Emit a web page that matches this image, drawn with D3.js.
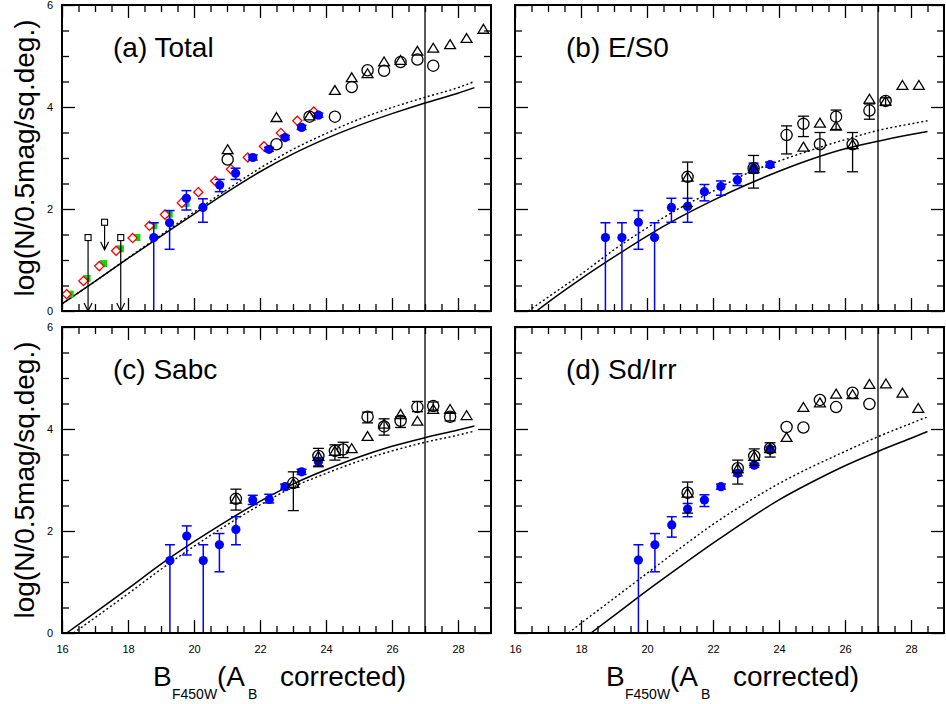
<!DOCTYPE html>
<html><head><meta charset="utf-8">
<script src="https://cdn.jsdelivr.net/npm/d3@7"></script>
<style>body{margin:0;background:#fff}</style>
</head><body>
<svg id="c" width="946" height="704"></svg>
<script>
// ---------- data ----------
const panelTitles = ["(a) Total", "(b) E/S0", "(c) Sabc", "(d) Sd/Irr"];
const xTicksMajor = [16, 18, 20, 22, 24, 26, 28];
const yTicksMajor = [0, 2, 4, 6];
const limitMag = 27;

// model curves [mag, log N]
const totalSolid  = [[16,0.14],[17,0.58],[18,1.03],[19,1.47],[20,1.90],[21,2.33],[22,2.73],[23,3.08],[24,3.38],[25,3.64],[26,3.87],[27,4.08],[28,4.27],[28.5,4.38]];
const totalDotted = [[16,0.14],[17,0.58],[18,1.04],[19,1.49],[20,1.94],[21,2.38],[22,2.80],[23,3.17],[24,3.48],[25,3.76],[26,3.99],[27,4.19],[28,4.38],[28.5,4.50]];
const es0Solid    = [[16.65,0],[17,0.17],[18,0.63],[19,1.06],[20,1.47],[21,1.84],[22,2.17],[23,2.47],[24,2.74],[25,2.98],[26,3.18],[27,3.33],[28,3.46],[28.5,3.52]];
const es0Dotted   = [[16.4,0],[17,0.27],[18,0.72],[19,1.20],[20,1.63],[21,2.02],[22,2.35],[23,2.69],[24,2.94],[25,3.16],[26,3.36],[27,3.54],[28,3.67],[28.5,3.73]];
const sabcSolid   = [[16.14,0],[17,0.40],[18,0.87],[19,1.35],[20,1.79],[21,2.20],[22,2.58],[23,2.92],[24,3.20],[25,3.45],[26,3.66],[27,3.83],[28,3.98],[28.5,4.06]];
const sabcDotted  = [[16.35,0],[17,0.30],[18,0.77],[19,1.25],[20,1.70],[21,2.12],[22,2.51],[23,2.86],[24,3.13],[25,3.37],[26,3.57],[27,3.74],[28,3.88],[28.5,3.96]];
const sdSolid     = [[18.3,0],[19,0.34],[20,0.83],[21,1.30],[22,1.76],[23,2.20],[24,2.61],[25,2.96],[26,3.28],[27,3.56],[28,3.82],[28.5,3.95]];
const sdDotted    = [[17.62,0],[18,0.19],[19,0.68],[20,1.17],[21,1.66],[22,2.13],[23,2.55],[24,2.93],[25,3.26],[26,3.56],[27,3.85],[28,4.11],[28.5,4.24]];

// (a) Total extra samples
const totalDiamond = [[16.14,0.33],[16.65,0.59],[17.13,0.88],[17.64,1.18],[18.14,1.43],[18.65,1.67],[19.12,1.89],[19.63,2.12],[20.13,2.33],[20.64,2.55],[21.12,2.78],[21.63,3.01],[22.12,3.23],[22.63,3.49],[23.13,3.73],[23.63,3.91]];
const totalGreen   = [[16.25,0.33],[16.76,0.64],[17.26,0.93],[17.77,1.22],[18.27,1.44],[18.78,1.67],[19.25,1.90],[19.76,2.11]];
const totalLimits  = [[16.79,1.44,0],[17.29,1.74,1.2],[17.78,1.44,0]]; // [mag, value, arrow end]

// blue points [mag, value, low, high]
const totalBlue = [[18.78,1.44,-1,1.73],[19.26,1.73,1.21,1.97],[19.77,2.21,1.98,2.36],[20.27,2.03,1.74,2.20],[20.78,2.47,2.34,2.58],[21.26,2.70,2.58,2.80],[21.78,3.01,2.96,3.06],[22.27,3.17,3.13,3.21],[22.76,3.40,3.36,3.44],[23.26,3.60,3.56,3.64],[23.77,3.84,3.80,3.88]];
const es0Blue   = [[18.74,1.44,-1,1.73],[19.24,1.44,-1,1.73],[19.74,1.74,1.21,1.97],[20.23,1.44,-1,1.73],[20.74,2.03,1.74,2.21],[21.23,2.05,1.74,2.21],[21.74,2.34,2.16,2.48],[22.24,2.44,2.27,2.55],[22.74,2.57,2.46,2.69],[23.23,2.80,2.70,2.90],[23.73,2.87,2.82,2.92]];
const sabcBlue  = [[19.27,1.42,-1,1.73],[19.78,1.90,1.53,2.10],[20.28,1.42,-1,1.73],[20.77,1.73,1.20,1.95],[21.27,2.03,1.73,2.28],[21.78,2.61,2.52,2.70],[22.28,2.62,2.55,2.72],[22.76,2.87,2.82,2.92],[23.26,3.16,3.11,3.21],[23.77,3.36,3.28,3.44]];
const sdBlue    = [[19.74,1.43,-1,1.73],[20.24,1.73,1.20,1.95],[20.75,2.12,1.88,2.28],[21.23,2.43,2.28,2.54],[21.74,2.61,2.48,2.71],[22.24,2.87,2.82,2.92],[22.75,3.13,3.08,3.18],[23.25,3.29,3.25,3.33],[23.73,3.61,3.57,3.65]];

// open circles [mag, value, low, high] (null = no error bar)
const totalCircle = [[21.02,2.97,null,null],[22.5,3.27,null,null],[23.5,3.81,null,null],[24.27,3.81,null,null],[24.78,4.39,null,null],[25.26,4.72,null,null],[25.76,4.71,null,null],[26.26,4.88,null,null],[26.77,4.93,null,null],[27.25,4.81,null,null]];
const es0Circle   = [[21.23,2.63,2.05,2.92],[23.23,2.80,2.41,3.05],[24.23,3.45,3.08,3.63],[24.74,3.67,3.42,3.82],[25.24,3.27,2.73,3.50],[25.73,3.81,3.56,3.94],[26.23,3.27,2.73,3.50],[26.74,3.93,3.76,4.06],[27.23,4.12,4.03,4.18]];
const sabcCircle  = [[21.27,2.63,2.41,2.82],[23.01,2.94,2.40,3.16],[23.77,3.47,3.26,3.62],[24.27,3.57,3.39,3.69],[24.52,3.60,3.44,3.74],[25.26,4.24,4.12,4.33],[25.76,4.05,3.88,4.20],[26.26,4.16,4.03,4.24],[26.77,4.43,4.34,4.54],[27.25,4.45,4.37,4.53],[27.76,4.24,4.16,4.32]];
const sdCircle    = [[21.23,2.75,2.35,2.96],[22.75,3.23,2.92,3.39],[23.25,3.47,3.29,3.61],[23.73,3.62,3.45,3.73],[24.23,4.04,null,null],[24.74,4.03,null,null],[25.24,4.57,null,null],[25.73,4.43,null,null],[26.23,4.71,null,null],[26.74,4.49,null,null]];

// open triangles [mag, value]
const totalTriangle = [[21.02,3.17],[22.5,3.80],[23.5,3.83],[24.27,4.33],[24.78,4.58],[25.26,4.66],[25.76,4.89],[26.26,4.92],[26.77,5.10],[27.25,5.16],[27.76,5.23],[28.26,5.35],[28.77,5.53]];
const es0Triangle   = [[21.23,2.63],[23.23,2.80],[24.74,3.22],[25.24,3.69],[25.73,3.63],[26.23,3.27],[26.74,4.16],[27.23,4.12],[27.74,4.43],[28.24,4.43]];
const sabcTriangle  = [[21.27,2.63],[23.01,2.94],[23.77,3.47],[24.27,3.57],[24.78,3.62],[25.26,3.86],[25.76,4.10],[26.26,4.29],[26.77,4.16],[27.25,4.39],[27.76,4.39],[28.26,4.27]];
const sdTriangle    = [[21.23,2.75],[22.75,3.23],[23.25,3.47],[23.73,3.62],[24.23,3.84],[24.74,4.43],[25.24,4.52],[25.73,4.69],[26.23,4.68],[26.74,4.88],[27.24,4.89],[27.74,4.71],[28.22,4.41]];

// ---------- drawing ----------
const svg = d3.select("#c");
const W = 429, H = 306;
const origins = [[62,5],[515,5],[62,327],[515,327]];
const FONT = "'Liberation Sans', Arial, Helvetica, sans-serif";
const x = d3.scaleLinear().domain([16,29]).range([0,W]);
const y = d3.scaleLinear().domain([0,6]).range([H,0]);

const panels = [
  {solid: totalSolid, dotted: totalDotted, blue: totalBlue, circles: totalCircle, triangles: totalTriangle, diamonds: totalDiamond, green: totalGreen, limits: totalLimits},
  {solid: es0Solid, dotted: es0Dotted, blue: es0Blue, circles: es0Circle, triangles: es0Triangle},
  {solid: sabcSolid, dotted: sabcDotted, blue: sabcBlue, circles: sabcCircle, triangles: sabcTriangle},
  {solid: sdSolid, dotted: sdDotted, blue: sdBlue, circles: sdCircle, triangles: sdTriangle}
];

const minorX = d3.range(16.5, 29, 0.5).filter(v => v % 2 !== 0);
const minorY = d3.range(0.5, 6, 0.5).filter(v => v % 2 !== 0);
const line = d3.line().x(d => x(d[0])).y(d => y(d[1])).curve(d3.curveMonotoneX);

function styleAxis(sel){
  sel.select(".domain").remove();
  sel.selectAll(".tick line").attr("stroke","#000").attr("stroke-width",1.3);
  sel.selectAll(".tick text").attr("font-family",FONT).attr("font-size",11).attr("fill","#000");
}

panels.forEach((p, i) => {
  const [ox, oy] = origins[i];
  const left = (i % 2 === 0), bottom = (i >= 2);
  const g = svg.append("g").attr("transform", `translate(${ox},${oy})`);
  g.append("clipPath").attr("id","clip"+i).append("rect").attr("width",W).attr("height",H);

  // ticks
  g.append("g").attr("transform",`translate(0,${H})`).call(d3.axisBottom(x).tickValues(xTicksMajor).tickSize(-13).tickPadding(12).tickFormat(bottom ? d3.format("d") : "")).call(styleAxis);
  g.append("g").attr("transform",`translate(0,${H})`).call(d3.axisBottom(x).tickValues(minorX).tickSize(-7).tickFormat("")).call(styleAxis);
  g.append("g").call(d3.axisTop(x).tickValues(xTicksMajor).tickSize(-13).tickFormat("")).call(styleAxis);
  g.append("g").call(d3.axisTop(x).tickValues(minorX).tickSize(-7).tickFormat("")).call(styleAxis);
  g.append("g").call(d3.axisLeft(y).tickValues(yTicksMajor).tickSize(-13).tickPadding(9).tickFormat(left ? d3.format("d") : "")).call(styleAxis);
  g.append("g").call(d3.axisLeft(y).tickValues(minorY).tickSize(-7).tickFormat("")).call(styleAxis);
  g.append("g").attr("transform",`translate(${W},0)`).call(d3.axisRight(y).tickValues(yTicksMajor).tickSize(-13).tickFormat("")).call(styleAxis);
  g.append("g").attr("transform",`translate(${W},0)`).call(d3.axisRight(y).tickValues(minorY).tickSize(-7).tickFormat("")).call(styleAxis);

  const c = g.append("g").attr("clip-path",`url(#clip${i})`);

  // completeness limit
  c.append("line").attr("x1",x(limitMag)).attr("x2",x(limitMag)).attr("y1",0).attr("y2",H)
    .attr("stroke","#000").attr("stroke-width",1.3);

  // model curves
  c.append("path").datum(p.dotted).attr("d",line).attr("fill","none").attr("stroke","#000")
    .attr("stroke-width",1.4).attr("stroke-dasharray","2,2.5");
  c.append("path").datum(p.solid).attr("d",line).attr("fill","none").attr("stroke","#000").attr("stroke-width",1.5);

  // green squares
  if (p.green) {
    c.selectAll(".gr").data(p.green).enter().append("rect")
      .attr("x",d=>x(d[0])-3.5).attr("y",d=>y(d[1])-3.5).attr("width",7).attr("height",7).attr("fill","#00dd00");
  }
  // red diamonds
  if (p.diamonds) {
    c.selectAll(".dm").data(p.diamonds).enter().append("path")
      .attr("transform",d=>`translate(${x(d[0])},${y(d[1])})`)
      .attr("d","M0,-4.6L4.6,0L0,4.6L-4.6,0Z").attr("fill","#fff").attr("stroke","#ff0000").attr("stroke-width",1.3);
  }
  // upper limits
  if (p.limits) {
    const lg = c.selectAll(".lm").data(p.limits).enter().append("g");
    lg.append("line").attr("x1",d=>x(d[0])).attr("x2",d=>x(d[0])).attr("y1",d=>y(d[1])+3).attr("y2",d=>y(d[2]))
      .attr("stroke","#000").attr("stroke-width",1.2);
    lg.append("path").attr("d",d=>`M${x(d[0])-4},${y(d[2])-8}L${x(d[0])},${y(d[2])}L${x(d[0])+4},${y(d[2])-8}`)
      .attr("fill","none").attr("stroke","#000").attr("stroke-width",1.2);
    lg.append("rect").attr("x",d=>x(d[0])-3).attr("y",d=>y(d[1])-3).attr("width",6).attr("height",6)
      .attr("fill","#fff").attr("stroke","#000").attr("stroke-width",1.1);
  }
  // blue points with error bars
  const bg = c.selectAll(".bl").data(p.blue).enter().append("g");
  bg.append("line").attr("x1",d=>x(d[0])).attr("x2",d=>x(d[0])).attr("y1",d=>y(d[2])).attr("y2",d=>y(d[3]))
    .attr("stroke","#0000ff").attr("stroke-width",1.5);
  bg.append("line").attr("x1",d=>x(d[0])-5).attr("x2",d=>x(d[0])+5).attr("y1",d=>y(d[3])).attr("y2",d=>y(d[3]))
    .attr("stroke","#0000ff").attr("stroke-width",1.5);
  bg.append("line").attr("x1",d=>x(d[0])-5).attr("x2",d=>x(d[0])+5).attr("y1",d=>y(d[2])).attr("y2",d=>y(d[2]))
    .attr("stroke","#0000ff").attr("stroke-width",1.5);
  bg.append("circle").attr("cx",d=>x(d[0])).attr("cy",d=>y(d[1])).attr("r",4.6).attr("fill","#0000ff");

  // open circles with black error bars
  const cg = c.selectAll(".ci").data(p.circles).enter().append("g");
  const withErr = cg.filter(d => d[2] !== null);
  withErr.append("line").attr("x1",d=>x(d[0])).attr("x2",d=>x(d[0])).attr("y1",d=>y(d[2])).attr("y2",d=>y(d[3]))
    .attr("stroke","#000").attr("stroke-width",1.3);
  withErr.append("line").attr("x1",d=>x(d[0])-5.5).attr("x2",d=>x(d[0])+5.5).attr("y1",d=>y(d[3])).attr("y2",d=>y(d[3]))
    .attr("stroke","#000").attr("stroke-width",1.3);
  withErr.append("line").attr("x1",d=>x(d[0])-5.5).attr("x2",d=>x(d[0])+5.5).attr("y1",d=>y(d[2])).attr("y2",d=>y(d[2]))
    .attr("stroke","#000").attr("stroke-width",1.3);
  cg.append("circle").attr("cx",d=>x(d[0])).attr("cy",d=>y(d[1])).attr("r",5.6)
    .attr("fill","none").attr("stroke","#000").attr("stroke-width",1.3);

  // open triangles
  c.selectAll(".tr").data(p.triangles).enter().append("path")
    .attr("transform",d=>`translate(${x(d[0])},${y(d[1])})`)
    .attr("d","M0,-4.6L5.4,4.3L-5.4,4.3Z").attr("fill","none").attr("stroke","#000").attr("stroke-width",1.3);

  // frame
  g.append("rect").attr("width",W).attr("height",H).attr("fill","none").attr("stroke","#000").attr("stroke-width",2);

  // panel title
  g.append("text").attr("x",51).attr("y",52).attr("font-family",FONT).attr("font-size",28).attr("fill","#000").text(panelTitles[i]);

  // y axis title
  if (left) {
    svg.append("text").attr("transform",`translate(34,${oy + H/2}) rotate(-90)`).attr("text-anchor","middle")
      .attr("font-family",FONT).attr("font-size",28).attr("fill","#000").text("log(N/0.5mag/sq.deg.)");
  }
  // x axis title
  if (bottom) {
    const t = svg.append("text").attr("font-family",FONT).attr("font-size",28).attr("fill","#000");
    t.append("tspan").attr("x",ox+91).attr("y",686).text("B");
    t.append("tspan").attr("x",ox+110).attr("y",699).attr("font-size",14).text("F450W");
    t.append("tspan").attr("x",ox+155).attr("y",686).text("(A");
    t.append("tspan").attr("x",ox+186).attr("y",699).attr("font-size",14).text("B");
    t.append("tspan").attr("x",ox+218).attr("y",686).text("corrected)");
  }
});
</script>
</body></html>
